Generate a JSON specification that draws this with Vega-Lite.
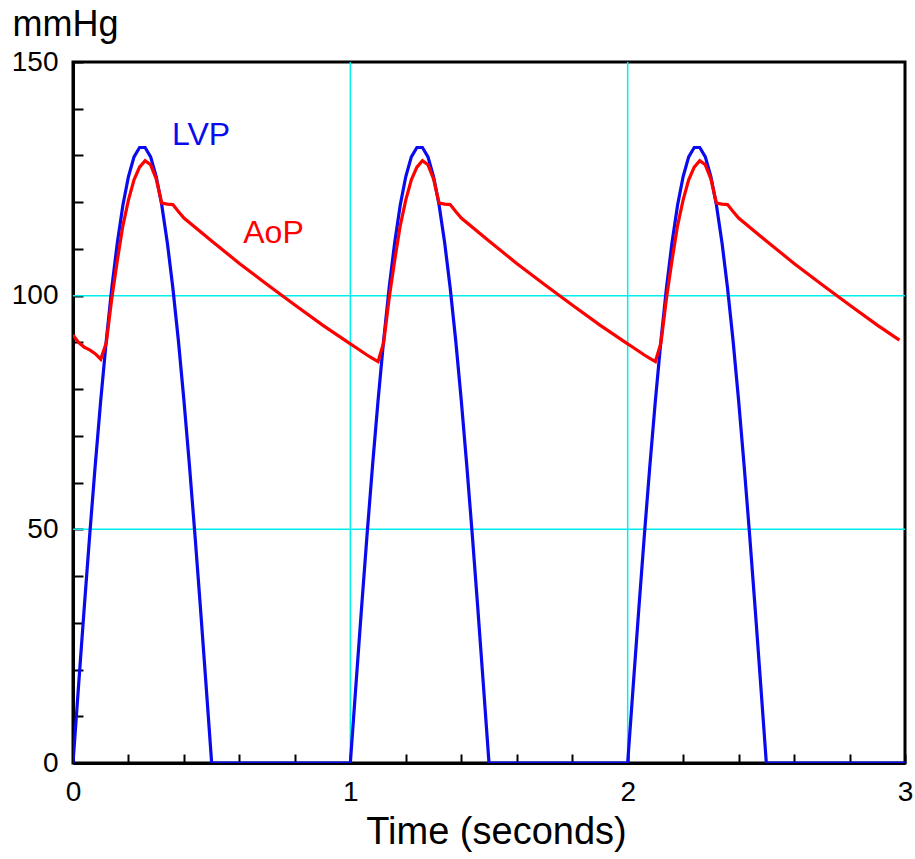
{
  "$schema": "https://vega.github.io/schema/vega-lite/v6.json",
  "width": 832,
  "height": 701,
  "autosize": {"type": "none"},
  "padding": {"left": 73, "top": 62, "right": 10, "bottom": 96},
  "background": "white",
  "config": {
    "font": "Liberation Sans",
    "view": {"stroke": "black", "strokeWidth": 3},
    "axis": {"grid": false, "domainColor": "black", "domainWidth": 3, "tickColor": "black", "tickWidth": 2, "labelColor": "black", "titleColor": "black", "titleFontWeight": "normal"}
  },
  "datasets": {
    "lvp": [
      {"t": 0, "p": 0}, {"t": 0.02, "p": 16.5}, {"t": 0.04, "p": 32.8}, {"t": 0.06, "p": 48.6}, {"t": 0.08, "p": 63.6}, {"t": 0.1, "p": 77.6}, {"t": 0.12, "p": 90.4}, {"t": 0.14, "p": 101.7}, {"t": 0.16, "p": 111.4}, {"t": 0.18, "p": 119.4}, {"t": 0.2, "p": 125.5}, {"t": 0.22, "p": 129.7}, {"t": 0.24, "p": 131.7}, {"t": 0.26, "p": 131.7}, {"t": 0.28, "p": 129.7}, {"t": 0.3, "p": 125.5}, {"t": 0.32, "p": 119.4}, {"t": 0.34, "p": 111.4}, {"t": 0.36, "p": 101.7}, {"t": 0.38, "p": 90.4}, {"t": 0.4, "p": 77.6}, {"t": 0.42, "p": 63.6}, {"t": 0.44, "p": 48.6}, {"t": 0.46, "p": 32.8}, {"t": 0.48, "p": 16.5}, {"t": 0.5, "p": 0},
      {"t": 1, "p": 0}, {"t": 1.02, "p": 16.5}, {"t": 1.04, "p": 32.8}, {"t": 1.06, "p": 48.6}, {"t": 1.08, "p": 63.6}, {"t": 1.1, "p": 77.6}, {"t": 1.12, "p": 90.4}, {"t": 1.14, "p": 101.7}, {"t": 1.16, "p": 111.4}, {"t": 1.18, "p": 119.4}, {"t": 1.2, "p": 125.5}, {"t": 1.22, "p": 129.7}, {"t": 1.24, "p": 131.7}, {"t": 1.26, "p": 131.7}, {"t": 1.28, "p": 129.7}, {"t": 1.3, "p": 125.5}, {"t": 1.32, "p": 119.4}, {"t": 1.34, "p": 111.4}, {"t": 1.36, "p": 101.7}, {"t": 1.38, "p": 90.4}, {"t": 1.4, "p": 77.6}, {"t": 1.42, "p": 63.6}, {"t": 1.44, "p": 48.6}, {"t": 1.46, "p": 32.8}, {"t": 1.48, "p": 16.5}, {"t": 1.5, "p": 0},
      {"t": 2, "p": 0}, {"t": 2.02, "p": 16.5}, {"t": 2.04, "p": 32.8}, {"t": 2.06, "p": 48.6}, {"t": 2.08, "p": 63.6}, {"t": 2.1, "p": 77.6}, {"t": 2.12, "p": 90.4}, {"t": 2.14, "p": 101.7}, {"t": 2.16, "p": 111.4}, {"t": 2.18, "p": 119.4}, {"t": 2.2, "p": 125.5}, {"t": 2.22, "p": 129.7}, {"t": 2.24, "p": 131.7}, {"t": 2.26, "p": 131.7}, {"t": 2.28, "p": 129.7}, {"t": 2.3, "p": 125.5}, {"t": 2.32, "p": 119.4}, {"t": 2.34, "p": 111.4}, {"t": 2.36, "p": 101.7}, {"t": 2.38, "p": 90.4}, {"t": 2.4, "p": 77.6}, {"t": 2.42, "p": 63.6}, {"t": 2.44, "p": 48.6}, {"t": 2.46, "p": 32.8}, {"t": 2.48, "p": 16.5}, {"t": 2.5, "p": 0},
      {"t": 3, "p": 0}
    ],
    "aop": [
      {"t": 0, "p": 91.6}, {"t": 0.02, "p": 90.0}, {"t": 0.04, "p": 89.0}, {"t": 0.06, "p": 88.4}, {"t": 0.08, "p": 87.6}, {"t": 0.1, "p": 86.4}, {"t": 0.12, "p": 89.9}, {"t": 0.14, "p": 99.5}, {"t": 0.16, "p": 107.6}, {"t": 0.18, "p": 115.0}, {"t": 0.2, "p": 120.5}, {"t": 0.22, "p": 124.8}, {"t": 0.24, "p": 127.5}, {"t": 0.26, "p": 128.9}, {"t": 0.28, "p": 128.0}, {"t": 0.3, "p": 125.0}, {"t": 0.32, "p": 119.8}, {"t": 0.34, "p": 119.6}, {"t": 0.36, "p": 119.5}, {"t": 0.38, "p": 118.0}, {"t": 0.4, "p": 116.6}, {"t": 0.5, "p": 111.7}, {"t": 0.6, "p": 106.9}, {"t": 0.7, "p": 102.4}, {"t": 0.8, "p": 98.0}, {"t": 0.9, "p": 93.7},
      {"t": 1, "p": 89.7}, {"t": 1.02, "p": 88.9}, {"t": 1.04, "p": 88.1}, {"t": 1.06, "p": 87.3}, {"t": 1.08, "p": 86.6}, {"t": 1.1, "p": 85.9}, {"t": 1.12, "p": 89.9}, {"t": 1.14, "p": 99.5}, {"t": 1.16, "p": 107.6}, {"t": 1.18, "p": 115.0}, {"t": 1.2, "p": 120.5}, {"t": 1.22, "p": 124.8}, {"t": 1.24, "p": 127.5}, {"t": 1.26, "p": 128.9}, {"t": 1.28, "p": 128.0}, {"t": 1.3, "p": 125.0}, {"t": 1.32, "p": 119.8}, {"t": 1.34, "p": 119.6}, {"t": 1.36, "p": 119.5}, {"t": 1.38, "p": 118.0}, {"t": 1.4, "p": 116.6}, {"t": 1.5, "p": 111.7}, {"t": 1.6, "p": 106.9}, {"t": 1.7, "p": 102.4}, {"t": 1.8, "p": 98.0}, {"t": 1.9, "p": 93.7},
      {"t": 2, "p": 89.7}, {"t": 2.02, "p": 88.9}, {"t": 2.04, "p": 88.1}, {"t": 2.06, "p": 87.3}, {"t": 2.08, "p": 86.6}, {"t": 2.1, "p": 85.9}, {"t": 2.12, "p": 89.9}, {"t": 2.14, "p": 99.5}, {"t": 2.16, "p": 107.6}, {"t": 2.18, "p": 115.0}, {"t": 2.2, "p": 120.5}, {"t": 2.22, "p": 124.8}, {"t": 2.24, "p": 127.5}, {"t": 2.26, "p": 128.9}, {"t": 2.28, "p": 128.0}, {"t": 2.3, "p": 125.0}, {"t": 2.32, "p": 119.8}, {"t": 2.34, "p": 119.6}, {"t": 2.36, "p": 119.5}, {"t": 2.38, "p": 118.0}, {"t": 2.4, "p": 116.6}, {"t": 2.5, "p": 111.7}, {"t": 2.6, "p": 106.9}, {"t": 2.7, "p": 102.4}, {"t": 2.8, "p": 98.0}, {"t": 2.9, "p": 93.7}, {"t": 2.98, "p": 90.5}
    ],
    "gridx": [{"t": 1}, {"t": 2}],
    "gridy": [{"p": 50}, {"p": 100}],
    "labels": [
      {"t": 0.4616, "p": 134.3, "name": "LVP", "series": "LVP"},
      {"t": 0.723, "p": 113.5, "name": "AoP", "series": "AoP"}
    ]
  },
  "layer": [
    {
      "data": {"name": "gridx"},
      "mark": {"type": "rule", "color": "#00eeee", "strokeWidth": 1.5},
      "encoding": {
        "x": {
          "field": "t", "type": "quantitative",
          "scale": {"domain": [0, 3], "nice": false, "zero": false},
          "axis": {
            "values": [0, 0.1, 0.2, 0.3, 0.4, 0.5, 0.6, 0.7, 0.8, 0.9, 1, 1.1, 1.2, 1.3, 1.4, 1.5, 1.6, 1.7, 1.8, 1.9, 2, 2.1, 2.2, 2.3, 2.4, 2.5, 2.6, 2.7, 2.8, 2.9, 3],
            "labelExpr": "datum.value % 1 === 0 ? '' + datum.value : ''",
            "labelOverlap": false, "labelFlush": false, "labelBound": false,
            "labelFontSize": 28, "labelPadding": 24, "labelAngle": 0,
            "tickSize": -9,
            "title": "Time (seconds)", "titleFontSize": 38,
            "titleX": 423, "titleY": 80, "titleBaseline": "alphabetic", "titleAlign": "center"
          }
        },
        "y": {"value": 0},
        "y2": {"value": 701}
      }
    },
    {
      "data": {"name": "gridy"},
      "mark": {"type": "rule", "color": "#00eeee", "strokeWidth": 1.5},
      "encoding": {
        "y": {
          "field": "p", "type": "quantitative",
          "scale": {"domain": [0, 150], "nice": false, "zero": true},
          "axis": {
            "values": [0, 10, 20, 30, 40, 50, 60, 70, 80, 90, 100, 110, 120, 130, 140, 150],
            "labelExpr": "datum.value % 50 === 0 ? '' + datum.value : ''",
            "labelOverlap": false, "labelFlush": false, "labelBound": false,
            "labelFontSize": 28, "labelPadding": 25,
            "tickSize": -10,
            "title": "mmHg", "titleFontSize": 36, "titleAngle": 0,
            "titleAlign": "left", "titleBaseline": "alphabetic",
            "titleX": -61, "titleY": -27
          }
        },
        "x": {"value": 0},
        "x2": {"value": 832}
      }
    },
    {
      "data": {"name": "lvp"},
      "mark": {"type": "line", "color": "#0a0aee", "strokeWidth": 3.2, "clip": true},
      "encoding": {
        "x": {"field": "t", "type": "quantitative"},
        "y": {"field": "p", "type": "quantitative"}
      }
    },
    {
      "data": {"name": "aop"},
      "mark": {"type": "line", "color": "#ff0000", "strokeWidth": 3.2, "clip": true},
      "encoding": {
        "x": {"field": "t", "type": "quantitative"},
        "y": {"field": "p", "type": "quantitative"}
      }
    },
    {
      "data": {"name": "labels"},
      "mark": {"type": "text", "fontSize": 32, "align": "center", "baseline": "middle"},
      "encoding": {
        "x": {"field": "t", "type": "quantitative"},
        "y": {"field": "p", "type": "quantitative"},
        "text": {"field": "name"},
        "color": {"field": "series", "type": "nominal", "scale": {"domain": ["LVP", "AoP"], "range": ["#0a0aee", "#ff0000"]}, "legend": null}
      }
    }
  ]
}
